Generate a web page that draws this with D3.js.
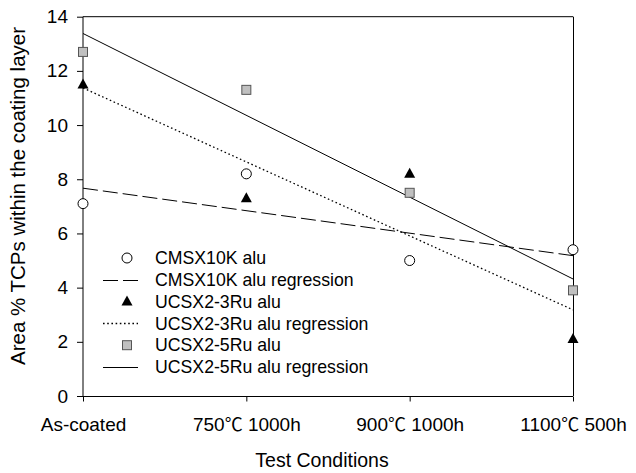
<!DOCTYPE html>
<html><head><meta charset="utf-8">
<script src="https://cdn.jsdelivr.net/npm/d3@7"></script>
<style>body{margin:0;background:#fff}svg{display:block}text{font-family:"Liberation Sans",Arial,sans-serif;fill:#000}</style>
</head><body>
<svg id="c" width="636" height="473"></svg>
<script>
const categories = ["As-coated", "750\u2103 1000h", "900\u2103 1000h", "1100\u2103 500h"];
const cmsx10k = [7.1, 8.2, 5.0, 5.4];
const ucsx3ru = [11.5, 7.3, 8.2, 2.1];
const ucsx5ru = [12.7, 11.3, 7.5, 3.9];
const yTicks = [0, 2, 4, 6, 8, 10, 12, 14];
const seriesNames = ["CMSX10K alu", "UCSX2-3Ru alu", "UCSX2-5Ru alu"];

const svg = d3.select("#c");
const L = 83, R = 573, T = 16.7, B = 396;
const x = d3.scaleLinear().domain([0, categories.length - 1]).range([L, R]);
const y = d3.scaleLinear().domain([0, 14]).range([B, T]);

function regression(vals) {
  const xs = vals.map((v, i) => i);
  const mx = d3.mean(xs), my = d3.mean(vals);
  const slope = d3.sum(xs, (xi, i) => (xi - mx) * (vals[i] - my)) / d3.sum(xs, xi => (xi - mx) ** 2);
  const b = my - slope * mx;
  return [[0, b], [xs.length - 1, b + slope * (xs.length - 1)]];
}

const series = [
  {name: seriesNames[0], vals: cmsx10k, marker: "circle", dash: "15,5", w: 1},
  {name: seriesNames[1], vals: ucsx3ru, marker: "triangle", dash: "1.6,2.6", w: 1.3},
  {name: seriesNames[2], vals: ucsx5ru, marker: "square", dash: null, w: 1}
];

// frame
svg.append("line").attr("x1", L).attr("x2", R).attr("y1", T).attr("y2", T).attr("stroke", "#000");
svg.append("line").attr("x1", R + 0.5).attr("x2", R + 0.5).attr("y1", T).attr("y2", B).attr("stroke", "#000");

// axes
const yAxis = d3.axisLeft(y).tickValues(yTicks).tickSize(6).tickPadding(9);
const gy = svg.append("g").attr("transform", `translate(${L},0)`).call(yAxis);
const xAxis = d3.axisBottom(x).tickValues(d3.range(categories.length)).tickFormat(i => categories[i]).tickSize(5).tickPadding(16);
const gx = svg.append("g").attr("transform", `translate(0,${B + 0.5})`).call(xAxis);
[gx, gy].forEach(g => {
  g.select(".domain").attr("stroke", "#000");
  g.selectAll(".tick line").attr("stroke", "#000");
  g.selectAll("text").style("font-size", "19px").attr("fill", "#000").style("font-family", '"Liberation Sans",Arial,sans-serif');
});
gy.select(".domain").attr("d", `M0,${B}V${T}`);
gx.select(".domain").attr("d", `M${L},0H${R}`);
// render the degree-Celsius sign with a full-width glyph
gx.selectAll(".tick text").each(function(i) {
  const t = d3.select(this), parts = categories[i].split("\u2103");
  if (parts.length < 2) return;
  t.text(null);
  t.append("tspan").text(parts[0]);
  t.append("tspan").style("font-family", '"Noto Sans CJK SC"').style("font-size", "18px").text("\u2103");
  t.append("tspan").text(parts[1]);
});

// regressions
const line = d3.line().x(d => x(d[0])).y(d => y(d[1]));
series.forEach(s => {
  svg.append("path").datum(regression(s.vals)).attr("d", line)
    .attr("fill", "none").attr("stroke", "#000").attr("stroke-width", s.w)
    .attr("stroke-dasharray", s.dash);
});

function drawMarker(g, type, cx, cy) {
  if (type === "circle") {
    g.append("circle").attr("cx", cx).attr("cy", cy).attr("r", 5).attr("fill", "#fff").attr("stroke", "#000").attr("stroke-width", 1);
  } else if (type === "triangle") {
    g.append("path").attr("d", `M${cx},${cy - 6}L${cx + 5.5},${cy + 4}L${cx - 5.5},${cy + 4}Z`).attr("fill", "#000");
  } else {
    g.append("rect").attr("x", cx - 4.5).attr("y", cy - 4.5).attr("width", 9).attr("height", 9).attr("fill", "#c0c0c0").attr("stroke", "#555").attr("stroke-width", 1);
  }
}
const pts = svg.append("g");
series.forEach(s => s.vals.forEach((v, i) => drawMarker(pts, s.marker, x(i), y(v))));

// legend
const lg = svg.append("g");
const rowY = 258, rowH = 21.8;
series.forEach((s, k) => {
  const y1 = rowY + rowH * (2 * k), y2 = rowY + rowH * (2 * k + 1);
  drawMarker(lg, s.marker, 127, y1);
  lg.append("text").attr("x", 155).attr("y", y1).attr("dy", "0.35em").style("font-size", "17.7px").text(s.name);
  lg.append("line").attr("x1", 103).attr("x2", 138).attr("y1", Math.round(y2) + 0.5).attr("y2", Math.round(y2) + 0.5).attr("stroke", "#000").attr("stroke-width", s.w).attr("stroke-dasharray", s.dash);
  lg.append("text").attr("x", 155).attr("y", y2).attr("dy", "0.35em").style("font-size", "17.7px").text(s.name + " regression");
});

// titles
svg.append("text").attr("x", 322).attr("y", 467).attr("text-anchor", "middle").style("font-size", "19.5px").text("Test Conditions");
svg.append("text").attr("transform", `translate(25,196) rotate(-90)`).attr("text-anchor", "middle").style("font-size", "20.5px").text("Area % TCPs within the coating layer");
</script>
</body></html>
